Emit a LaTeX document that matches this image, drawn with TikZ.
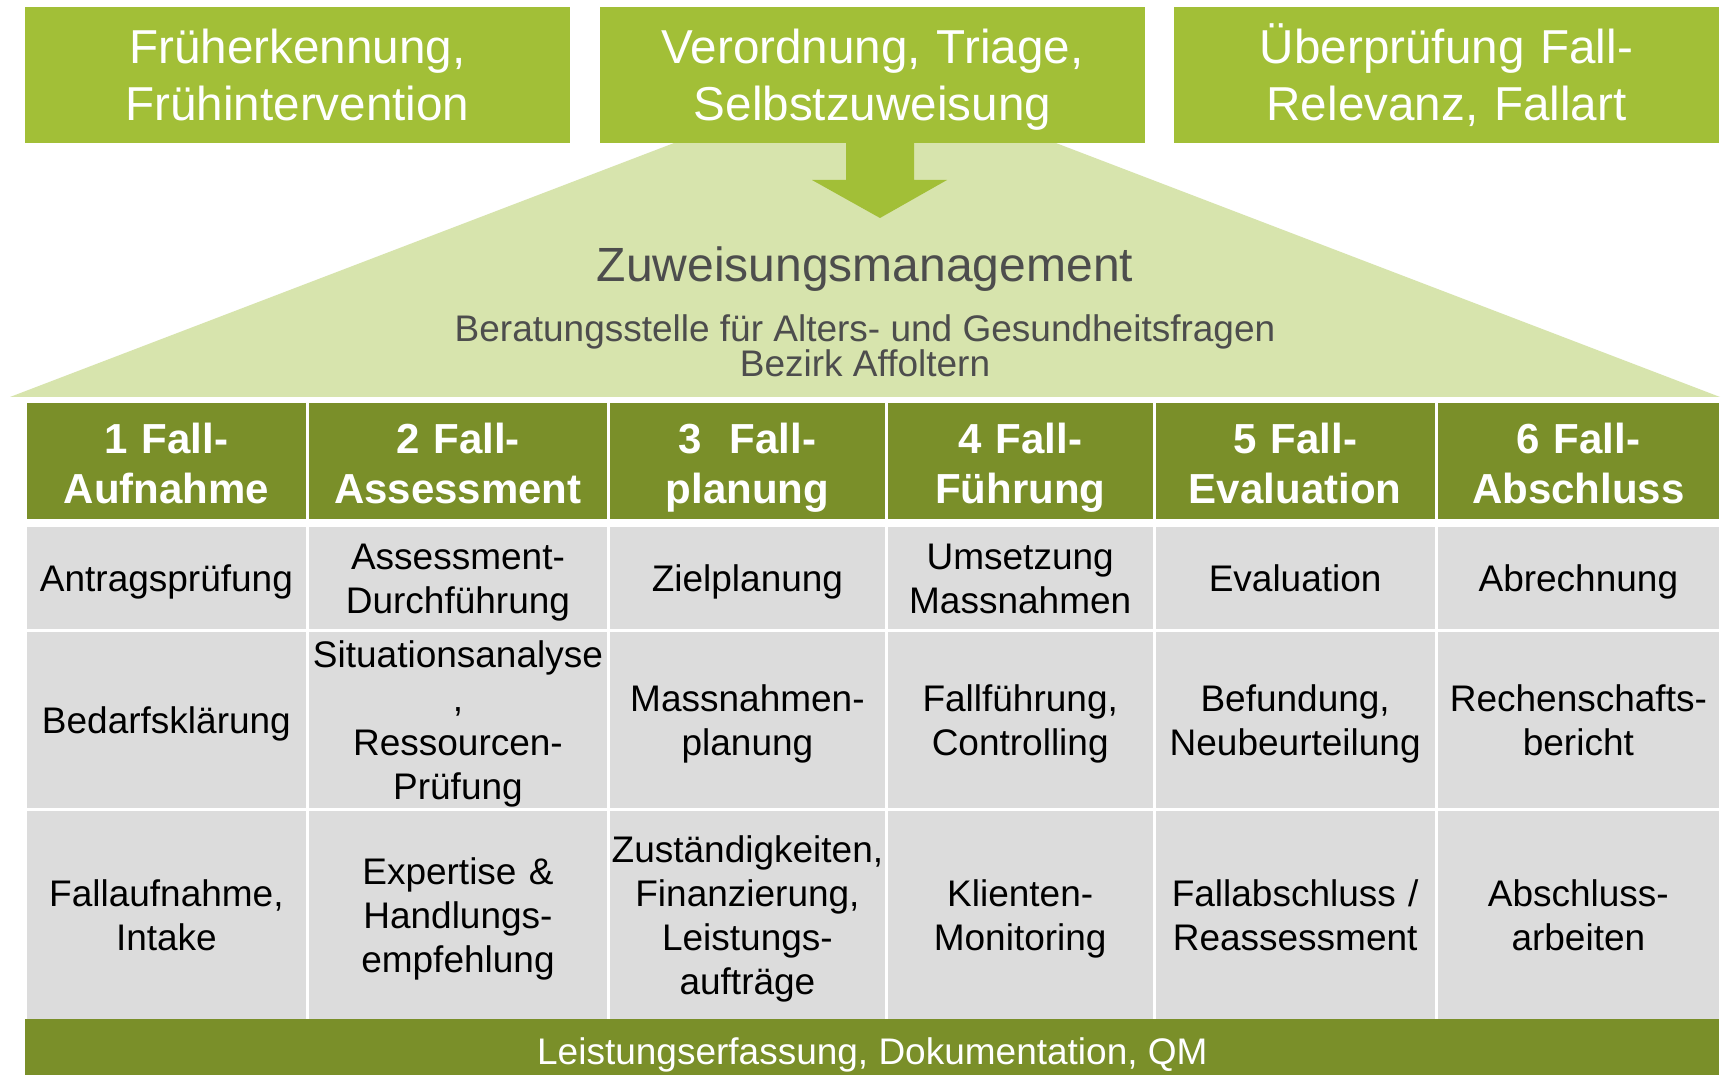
\documentclass[tikz,border=0pt]{standalone}
\usepackage{fontspec}
\setmainfont{Liberation Sans}
\usetikzlibrary{positioning}

\definecolor{limegreen}{HTML}{A2BF37}
\definecolor{palegreen}{HTML}{D7E4AD}
\definecolor{olivegreen}{HTML}{7A8F29}
\definecolor{cellgray}{HTML}{DCDCDC}
\definecolor{titlegray}{HTML}{4D4D4D}

\begin{document}
\begin{tikzpicture}[x=0.5pt,y=-0.5pt,node distance=1.5pt,
        top box/.style={fill=limegreen,text=white,text width=272.5pt,minimum height=68pt,
          inner sep=0pt,outer sep=0pt,align=center,font=\fontsize{23.8}{28.5}\selectfont,
          execute at begin node={\rule{0pt}{23pt}},execute at end node={\rule[-5.5pt]{0pt}{0pt}}},
        head cell/.style={fill=olivegreen,text=white,minimum height=58pt,inner sep=0pt,
          outer sep=0pt,align=center,font=\fontsize{21}{25.3}\selectfont\bfseries,
          execute at begin node={\rule{0pt}{22.1pt}},execute at end node={\rule[-4.5pt]{0pt}{0pt}}},
        body cell/.style={fill=cellgray,text=black,inner sep=0pt,outer sep=0pt,align=center,
          font=\fontsize{18.5}{22}\selectfont,
          execute at begin node={\rule{0pt}{17.9pt}},execute at end node={\rule[-4.1pt]{0pt}{0pt}}},
        sub text/.style={text=titlegray,inner sep=0pt,anchor=base,font=\fontsize{18.5}{18.5}\selectfont},
        col1/.style={text width=139.4pt},
        col2/.style={text width=149.15pt},
        col3/.style={text width=137.35pt},
        col4/.style={text width=132.4pt},
        col5/.style={text width=139.55pt},
        col6/.style={text width=140.65pt},
        row1/.style={minimum height=51pt},
        row2/.style={minimum height=88pt},
        row3/.style={minimum height=104pt}]

        \useasboundingbox (0,0) rectangle (1721,1075);
        \fill[white] (0,0) rectangle (1721,1075);

        % triangle behind the middle box
        \fill[palegreen] (10,397) -- (865,70) -- (1720,397) -- cycle;

        \node[top box,anchor=north west] (fr) at (25,7) {Früherkennung,\\Frühintervention};
        \node[top box] (vt) [right=15pt of fr] {Verordnung, Triage,\\Selbstzuweisung};
        \node[top box] (ue) [right=14.5pt of vt] {Überprüfung Fall-\\Relevanz, Fallart};

        \fill[limegreen] (846,143) -- (914,143) -- (914,180) -- (947,180) -- (880,218)
          -- (812,180) -- (846,180) -- cycle;

        \node[text=titlegray,inner sep=0pt,anchor=base,font=\fontsize{24}{24}\selectfont]
          (zm) at (865,282) {Zuweisungsmanagement};
        \node[sub text] (bs) at (865,342) {Beratungsstelle für Alters- und Gesundheitsfragen};
        \node[sub text] (ba) at (865,377) {Bezirk Affoltern};

        % header row
        \node[head cell,col1,anchor=north west] (h1) at (27,403) {1 Fall-\\Aufnahme};
        \node[head cell,col2] (h2) [right=of h1] {2 Fall-\\Assessment};
        \node[head cell,col3] (h3) [right=of h2] {3~ Fall-\\planung};
        \node[head cell,col4] (h4) [right=of h3] {4 Fall-\\Führung};
        \node[head cell,col5] (h5) [right=of h4] {5 Fall-\\Evaluation};
        \node[head cell,col6] (h6) [right=of h5] {6 Fall-\\Abschluss};

        \node[body cell,col1,row1] (a1) [below=4pt of h1] {Antragsprüfung};
        \node[body cell,col2,row1] (a2) [right=of a1] {Assessment-\\Durchführung};
        \node[body cell,col3,row1] (a3) [right=of a2] {Zielplanung};
        \node[body cell,col4,row1] (a4) [right=of a3] {Umsetzung\\Massnahmen};
        \node[body cell,col5,row1] (a5) [right=of a4] {Evaluation};
        \node[body cell,col6,row1] (a6) [right=of a5] {Abrechnung};

        \node[body cell,col1,row2] (b1) [below=of a1] {Bedarfsklärung};
        \node[body cell,col2,row2] (b2) [right=of b1] {Situationsanalyse\\,\\Ressourcen-\\Prüfung};
        \node[body cell,col3,row2] (b3) [right=of b2] {Massnahmen-\\planung};
        \node[body cell,col4,row2] (b4) [right=of b3] {Fallführung,\\Controlling};
        \node[body cell,col5,row2] (b5) [right=of b4] {Befundung,\\Neubeurteilung};
        \node[body cell,col6,row2] (b6) [right=of b5] {Rechenschafts-\\bericht};

        \node[body cell,col1,row3] (c1) [below=of b1] {Fallaufnahme,\\Intake};
        \node[body cell,col2,row3] (c2) [right=of c1] {Expertise \&\\Handlungs-\\empfehlung};
        \node[body cell,col3,row3] (c3) [right=of c2] {Zuständigkeiten,\\Finanzierung,\\Leistungs-\\aufträge};
        \node[body cell,col4,row3] (c4) [right=of c3] {Klienten-\\Monitoring};
        \node[body cell,col5,row3] (c5) [right=of c4] {Fallabschluss /\\Reassessment};
        \node[body cell,col6,row3] (c6) [right=of c5] {Abschluss-\\arbeiten};

        \node[fill=olivegreen,text=white,minimum width=847pt,minimum height=28pt,inner sep=0pt,
          anchor=north west,font=\fontsize{18.5}{22}\selectfont,
          execute at begin node={\rule{0pt}{22pt}},execute at end node={\rule[-4.7pt]{0pt}{0pt}}]
          (qm) at (25,1019) {Leistungserfassung, Dokumentation, QM};
    \end{tikzpicture}
\end{document}
